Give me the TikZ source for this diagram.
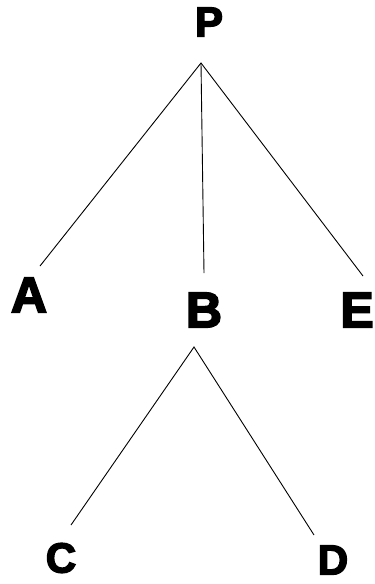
\documentclass[tikz,border=0pt]{standalone}
\usepackage{fontspec}
\newfontfamily\heavy{Liberation Sans Bold}[FakeBold=3.5]
\begin{document}
\begin{tikzpicture}[x=1pt,y=-1pt,
  big/.style={inner sep=0pt,font=\heavy\fontsize{50}{50}\selectfont},
  small/.style={inner sep=0pt,font=\heavy\fontsize{42}{42}\selectfont},
  edge/.style={line width=0.9pt,black}]
\useasboundingbox (0,0) rectangle (375,584);
\node[small] (P) at (209,22) {P};
\node[big] (A) at (29,295) {A};
\node[big] (B) at (204,310) {B};
\node[big] (E) at (357,310) {E};
\node[small] (C) at (61,558) {C};
\node[small] (D) at (333,560) {D};
\coordinate (p0) at (201,63);
\coordinate (a0) at (40,266);
\coordinate (b0) at (204,273);
\coordinate (e0) at (363,276);
\coordinate (b1) at (194,347);
\coordinate (c0) at (71,525);
\coordinate (d0) at (314,535);
\draw[edge] (a0) -- (p0) -- (e0);
\draw[edge] (p0) -- (b0);
\draw[edge] (c0) -- (b1) -- (d0);
\end{tikzpicture}
\end{document}
